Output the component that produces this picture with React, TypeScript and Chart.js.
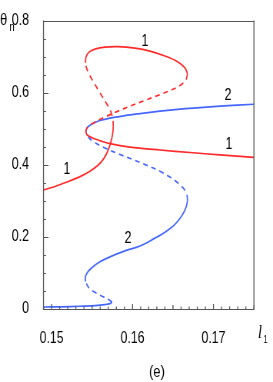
import React, { useEffect, useRef } from "react";
import { Chart, registerables } from "chart.js";
Chart.register(...registerables);

// ---- axis ticks ----
const xTickValues = [0.15, 0.16, 0.17];
const yTickValues = [0, 0.2, 0.4, 0.6, 0.8];
const xRange = [0.149, 0.175];
const yRange = [0, 0.8];

// ---- curve 1 (red) branches: [l1, theta_n] ----
const red1StableLow: number[][] = [
  [0.149, 0.3304], [0.15042, 0.3399], [0.1519, 0.3522], [0.15351, 0.3672],
  [0.15474, 0.3823], [0.15573, 0.3986], [0.15647, 0.4177], [0.15697, 0.4396],
  [0.15734, 0.4642], [0.15756, 0.4887], [0.15762, 0.5051],
];
const red1UnstableA: number[][] = [
  [0.15762, 0.5051], [0.15758, 0.5242], [0.15734, 0.5461], [0.15684, 0.5679],
  [0.1561, 0.5952], [0.15536, 0.6225], [0.15474, 0.6471], [0.15431, 0.6689],
  [0.15419, 0.6826],
];
const red1StableTop: number[][] = [
  [0.15419, 0.6826], [0.15425, 0.699], [0.15462, 0.7126], [0.15536, 0.7208],
  [0.1566, 0.7263], [0.1582, 0.7277], [0.1603, 0.7235], [0.16215, 0.7154],
  [0.16401, 0.7017], [0.16561, 0.6853], [0.16648, 0.6689], [0.16679, 0.6526],
];
const red1UnstableB: number[][] = [
  [0.16679, 0.6526], [0.1666, 0.6362], [0.16586, 0.6198], [0.16463, 0.6061],
  [0.16314, 0.5925], [0.16154, 0.5788], [0.15968, 0.5625], [0.1582, 0.5488],
  [0.1566, 0.5324], [0.15536, 0.5188], [0.1545, 0.5051], [0.15419, 0.4942],
];
const red1StableHigh: number[][] = [
  [0.15419, 0.4942], [0.15437, 0.4833], [0.15499, 0.4751], [0.15598, 0.4669],
  [0.15721, 0.4587], [0.15968, 0.4492], [0.16339, 0.441], [0.1671, 0.4341],
  [0.1708, 0.4273], [0.175, 0.4205],
];

// ---- curve 2 (blue) branches ----
const blue2StableLow: number[][] = [
  [0.149, 0.0055], [0.15104, 0.006], [0.15351, 0.0076], [0.15536, 0.0096],
  [0.1566, 0.0123], [0.15721, 0.015], [0.15746, 0.0191],
];
const blue2UnstableA: number[][] = [
  [0.15746, 0.0191], [0.15709, 0.0259], [0.15623, 0.0355], [0.15524, 0.0478],
  [0.15456, 0.0601], [0.15419, 0.0765],
];
const blue2StableMid: number[][] = [
  [0.15419, 0.0765], [0.15419, 0.0901], [0.1545, 0.1038], [0.15511, 0.1174],
  [0.15598, 0.1311], [0.15721, 0.1447], [0.15907, 0.1611], [0.16092, 0.1747],
  [0.16277, 0.1966], [0.16401, 0.213], [0.16524, 0.2348], [0.16611, 0.2594],
  [0.1666, 0.2812], [0.16679, 0.3003],
];
const blue2UnstableB: number[][] = [
  [0.16679, 0.3003], [0.16672, 0.3167], [0.16635, 0.3331], [0.16561, 0.3495],
  [0.16463, 0.3659], [0.16339, 0.3823], [0.16191, 0.3973], [0.1603, 0.4123],
  [0.15845, 0.4287], [0.1566, 0.4464], [0.15536, 0.4614], [0.15462, 0.4751],
  [0.15425, 0.4887],
];
const blue2StableHigh: number[][] = [
  [0.15425, 0.4887], [0.15431, 0.4997], [0.15462, 0.5078], [0.15524, 0.516],
  [0.15598, 0.5229], [0.15721, 0.5297], [0.15907, 0.5365], [0.16092, 0.542],
  [0.16339, 0.5488], [0.16586, 0.5543], [0.16833, 0.5584], [0.1708, 0.5625],
  [0.175, 0.5679],
];

// ---- curve labels ----
const curveLabels: { text: string; x: number; y: number }[] = [
  { text: "1", x: 0.16154, y: 0.7427 },
  { text: "1", x: 0.17191, y: 0.456 },
  { text: "1", x: 0.1519, y: 0.3877 },
  { text: "2", x: 0.17179, y: 0.5925 },
  { text: "2", x: 0.15944, y: 0.1966 },
];

const RED = "#ff2a2a";
const BLUE = "#4466ff";
const AXIS = "#555555";
const FONT = "'Liberation Sans', Arial, sans-serif";

// the canvas is drawn wider and shown at 273px: gives the condensed lettering
const OUT_W = 273;
const OUT_H = 382;
const K = 1.3;
const W = Math.round(OUT_W * K);

function branch(pts: number[][], color: string, dashed: boolean) {
  return {
    data: pts.map(([x, y]) => ({ x, y })),
    showLine: true,
    borderColor: color,
    backgroundColor: color,
    borderWidth: 1.7,
    borderDash: dashed ? [6, 5] : [],
    pointRadius: 0,
    tension: 0.35,
    fill: false,
  };
}

const decorPlugin = {
  id: "decor",
  afterDraw(chart: any) {
    const { ctx, chartArea: a, scales } = chart;
    const xs = scales.x;
    const ys = scales.y;
    ctx.save();
    ctx.strokeStyle = AXIS;
    // horizontal frame lines
    ctx.lineWidth = 1;
    ctx.beginPath();
    ctx.moveTo(a.left, Math.round(a.top) + 0.5);
    ctx.lineTo(a.right, Math.round(a.top) + 0.5);
    ctx.moveTo(a.left, Math.round(a.bottom) + 0.5);
    ctx.lineTo(a.right, Math.round(a.bottom) + 0.5);
    ctx.stroke();
    // vertical frame lines
    ctx.lineWidth = K;
    ctx.beginPath();
    ctx.moveTo(a.left, a.top);
    ctx.lineTo(a.left, a.bottom + 1);
    ctx.moveTo(a.right, a.top);
    ctx.lineTo(a.right, a.bottom + 1);
    ctx.stroke();
    // inward ticks on x
    ctx.lineWidth = K;
    ctx.beginPath();
    for (let i = 149; i <= 175; i++) {
      const v = i / 1000;
      const px = xs.getPixelForValue(v);
      const len = i % 10 === 0 ? 5 : i % 5 === 0 ? 4 : 2.5;
      ctx.moveTo(px, a.bottom);
      ctx.lineTo(px, a.bottom - len);
    }
    ctx.stroke();
    ctx.lineWidth = 1;
    ctx.beginPath();
    for (let i = 0; i <= 16; i++) {
      const v = i * 0.05;
      const py = Math.round(ys.getPixelForValue(v)) + 0.5;
      const len = (i % 4 === 0 ? 5 : 2.5) * K;
      ctx.moveTo(a.left, py);
      ctx.lineTo(a.left + len, py);
    }
    ctx.stroke();
    // curve labels
    ctx.fillStyle = "#000";
    ctx.font = `16px ${FONT}`;
    ctx.textAlign = "center";
    ctx.textBaseline = "middle";
    for (const l of curveLabels) {
      ctx.fillText(l.text, xs.getPixelForValue(l.x), ys.getPixelForValue(l.y));
    }
    // axis titles
    ctx.textBaseline = "alphabetic";
    ctx.textAlign = "left";
    ctx.font = `17px ${FONT}`;
    ctx.fillText("θ", 0, 25);
    ctx.font = `12px ${FONT}`;
    ctx.fillText("n", 9.5 * K, 31);
    ctx.font = `italic 18px 'Liberation Serif', serif`;
    ctx.fillText("l", 258 * K, 338);
    ctx.font = `10px ${FONT}`;
    ctx.fillText("1", 263.5 * K, 343);
    ctx.font = `17px ${FONT}`;
    ctx.textAlign = "center";
    ctx.fillText("(e)", 157 * K, 377);
    ctx.restore();
  },
};

export default function App() {
  const ref = useRef<HTMLCanvasElement | null>(null);
  useEffect(() => {
    if (!ref.current) return;
    const chart = new Chart(ref.current, {
      type: "scatter",
      data: {
        datasets: [
          branch(red1StableLow, RED, false),
          branch(red1UnstableA, RED, true),
          branch(red1StableTop, RED, false),
          branch(red1UnstableB, RED, true),
          branch(red1StableHigh, RED, false),
          branch(blue2StableLow, BLUE, false),
          branch(blue2UnstableA, BLUE, true),
          branch(blue2StableMid, BLUE, false),
          branch(blue2UnstableB, BLUE, true),
          branch(blue2StableHigh, BLUE, false),
        ] as any,
      },
      options: {
        animation: false,
        responsive: false,
        devicePixelRatio: 1,
        layout: { padding: { left: 0, right: W - 254 * K, top: 16, bottom: 0 } },
        plugins: { legend: { display: false }, tooltip: { enabled: false } },
        scales: {
          x: {
            type: "linear",
            min: xRange[0],
            max: xRange[1],
            grid: { display: false },
            border: { display: false },
            afterBuildTicks: (s: any) => {
              s.ticks = xTickValues.map((v) => ({ value: v }));
            },
            afterFit: (s: any) => {
              s.height = 73;
            },
            ticks: {
              padding: 11.5,
              color: "#000",
              font: { family: FONT, size: 16 },
              maxRotation: 0,
              callback: (v: any) => Number(v).toFixed(2),
            },
          },
          y: {
            type: "linear",
            min: yRange[0],
            max: yRange[1],
            grid: { display: false },
            border: { display: false },
            afterBuildTicks: (s: any) => {
              s.ticks = yTickValues.map((v) => ({ value: v }));
            },
            afterFit: (s: any) => {
              s.width = 43.5 * K;
            },
            ticks: {
              padding: 11,
              color: "#000",
              font: { family: FONT, size: 16 },
              callback: (v: any) => (Number(v) === 0 ? "0" : Number(v).toFixed(1)),
            },
          },
        },
      },
      plugins: [decorPlugin],
    });
    return () => chart.destroy();
  }, []);
  return (
    <div style={{ position: "absolute", left: 0, top: 0, width: OUT_W, height: OUT_H, background: "#fff" }}>
      <canvas
        ref={ref}
        width={W}
        height={OUT_H}
        style={{ display: "block", width: OUT_W + "px", height: OUT_H + "px" }}
      />
    </div>
  );
}
